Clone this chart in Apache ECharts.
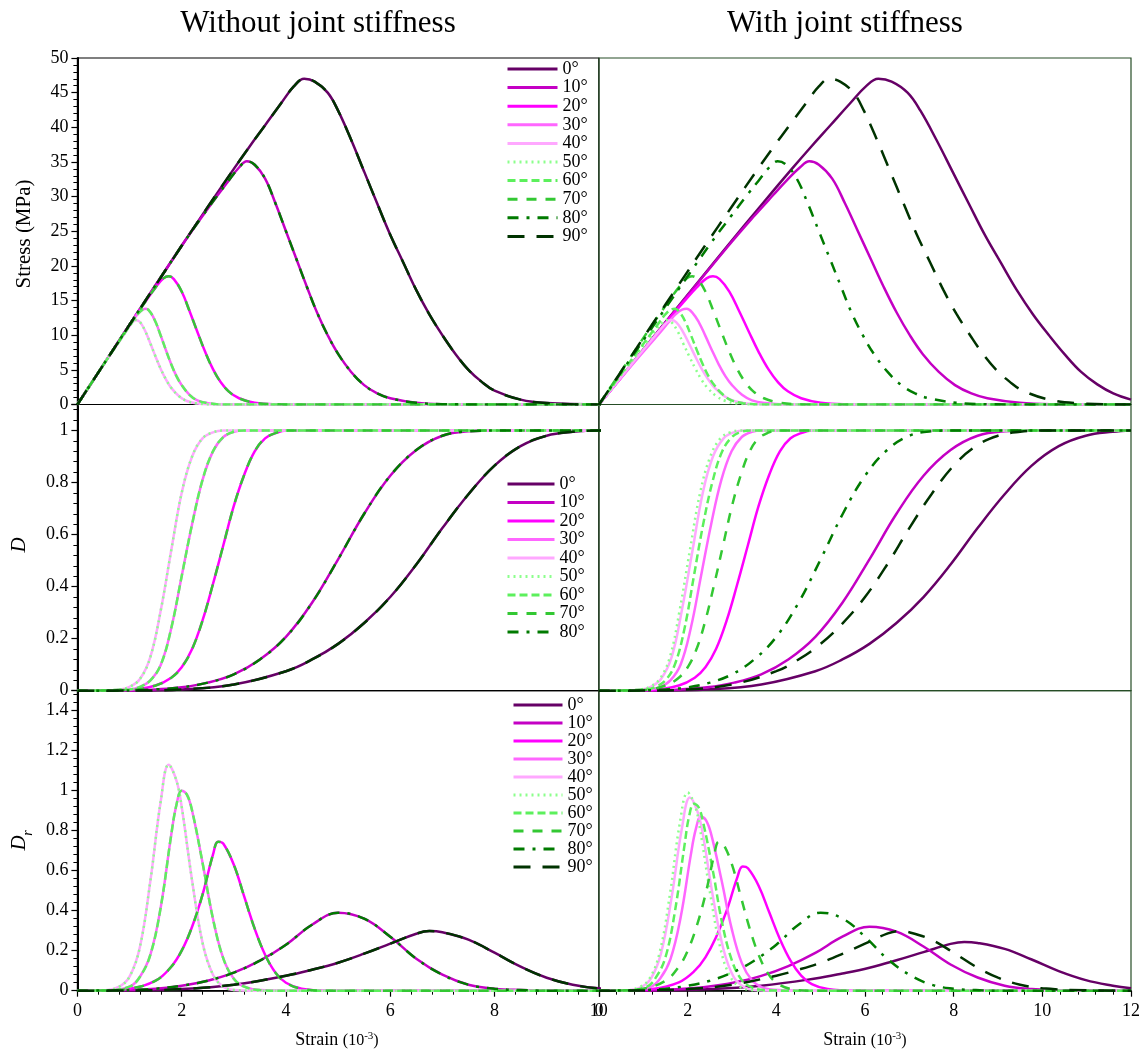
<!DOCTYPE html>
<html>
<head>
<meta charset="utf-8">
<script src="https://cdn.jsdelivr.net/npm/echarts@6/dist/echarts.min.js"></script>
<style>
html,body{margin:0;padding:0;background:#fff;}
#chart{width:1145px;height:1053px;}
</style>
</head>
<body>
<div id="chart"></div>
<script>
// Orientation angles of the joint set
const angles = ['0°','10°','20°','30°','40°','50°','60°','70°','80°','90°'];

// ---- Without joint stiffness: stress-strain [strain (10^-3), stress (MPa)] ----
const sL_0_90 = [[0,0],[0.5,5.75],[1,11.5],[1.5,17.2],[2,22.9],[2.5,28.5],[3,34],[3.3,37.2],[3.6,40.3],[3.9,43.4],[4.15,45.9],[4.35,47],[4.55,46.6],[4.8,45],[5,42.4],[5.25,38.2],[5.5,33.6],[5.75,29],[6,24.5],[6.25,20.5],[6.5,16.5],[6.75,13],[7,10],[7.25,7.3],[7.5,5],[7.75,3.3],[8,2],[8.5,0.7],[9,0.2],[10,0],[12,0]];
const sL_10_80 = [[0,0],[1,11.5],[2,22.9],[2.4,27.2],[2.7,30.3],[2.9,32.3],[3.1,34.2],[3.25,35.1],[3.4,34.6],[3.6,32.6],[3.8,29],[4,25],[4.2,21],[4.4,17],[4.6,13.2],[4.8,10],[5,7.3],[5.25,4.7],[5.5,2.8],[5.75,1.6],[6,0.9],[6.5,0.25],[7,0.05],[8,0],[12,0]];
const sL_20_70 = [[0,0],[0.5,5.75],[1,11.5],[1.3,14.8],[1.5,16.9],[1.65,18.2],[1.75,18.5],[1.85,18.1],[2,16.3],[2.15,13.5],[2.3,10.5],[2.45,7.6],[2.6,5.1],[2.75,3.2],[2.9,1.9],[3.1,0.9],[3.4,0.25],[3.8,0.03],[4.2,0],[12,0]];
const sL_30_60 = [[0,0],[0.5,5.75],[0.9,10.2],[1.05,11.9],[1.15,13],[1.25,13.7],[1.32,13.8],[1.4,13.3],[1.5,11.9],[1.6,9.9],[1.7,7.8],[1.8,5.8],[1.9,4.1],[2,2.8],[2.15,1.4],[2.3,0.6],[2.5,0.2],[2.8,0],[12,0]];
const sL_40_50 = [[0,0],[0.5,5.75],[0.8,9.1],[0.95,10.8],[1.05,11.8],[1.12,12.2],[1.2,11.9],[1.3,10.6],[1.4,8.8],[1.5,6.9],[1.6,5.1],[1.7,3.6],[1.8,2.4],[1.95,1.2],[2.1,0.5],[2.3,0.15],[2.6,0],[12,0]];

// ---- Without joint stiffness: damage D ----
const dL_0_90 = [[0,0],[1,0.0005],[2,0.005],[3,0.024],[4,0.075],[4.5,0.12],[5,0.18],[5.5,0.26],[6,0.36],[6.5,0.485],[7,0.625],[7.5,0.755],[8,0.865],[8.5,0.94],[9,0.98],[9.5,0.995],[10,1],[12,1]];
const dL_10_80 = [[0,0],[1,0.001],[1.5,0.005],[2,0.013],[2.5,0.031],[3,0.063],[3.5,0.12],[4,0.207],[4.5,0.338],[5,0.505],[5.5,0.68],[6,0.826],[6.5,0.925],[7,0.98],[7.5,0.997],[8,1],[12,1]];
const dL_20_70 = [[0,0],[1,0.003],[1.5,0.02],[1.8,0.05],[2,0.09],[2.2,0.16],[2.4,0.27],[2.6,0.41],[2.8,0.56],[3,0.71],[3.2,0.83],[3.4,0.92],[3.6,0.97],[3.8,0.99],[4,1],[12,1]];
const dL_30_60 = [[0,0],[1,0.005],[1.2,0.015],[1.4,0.04],[1.6,0.1],[1.8,0.24],[2,0.44],[2.2,0.64],[2.4,0.81],[2.6,0.92],[2.8,0.975],[3,0.995],[3.2,1],[12,1]];
const dL_40_50 = [[0,0],[0.6,0.001],[0.8,0.004],[1,0.015],[1.2,0.045],[1.4,0.13],[1.6,0.31],[1.8,0.54],[2,0.76],[2.2,0.9],[2.4,0.97],[2.6,0.993],[2.8,1],[12,1]];

// ---- Without joint stiffness: damage rate Dr ----
const rL_0_90 = [[0,0],[1,0.001],[2,0.008],[3,0.03],[4,0.075],[4.5,0.105],[5,0.14],[5.5,0.185],[6,0.235],[6.5,0.285],[6.75,0.298],[7,0.292],[7.5,0.255],[8,0.19],[8.5,0.12],[9,0.065],[9.5,0.03],[10,0.012],[11,0.002],[12,0]];
const rL_10_80 = [[0,0],[1,0.003],[1.5,0.01],[2,0.025],[2.5,0.05],[3,0.09],[3.5,0.15],[4,0.23],[4.5,0.33],[5,0.39],[5.5,0.36],[6,0.27],[6.5,0.16],[7,0.08],[7.5,0.03],[8,0.01],[8.5,0.003],[9,0],[12,0]];
const rL_20_70 = [[0,0],[0.5,0.001],[1,0.01],[1.5,0.05],[1.8,0.12],[2,0.2],[2.2,0.32],[2.4,0.48],[2.6,0.68],[2.7,0.745],[2.8,0.735],[3,0.63],[3.2,0.47],[3.4,0.31],[3.6,0.18],[3.8,0.09],[4,0.04],[4.3,0.01],[4.8,0],[12,0]];
const rL_30_60 = [[0,0],[0.5,0.001],[1,0.02],[1.2,0.07],[1.4,0.18],[1.6,0.42],[1.8,0.78],[1.9,0.93],[2,1],[2.1,0.98],[2.2,0.9],[2.4,0.64],[2.6,0.36],[2.8,0.16],[3,0.06],[3.2,0.02],[3.5,0.003],[4,0],[12,0]];
const rL_40_50 = [[0,0],[0.5,0.001],[0.8,0.02],[1,0.07],[1.2,0.22],[1.4,0.55],[1.6,0.95],[1.75,1.13],[1.9,1.05],[2,0.92],[2.2,0.55],[2.4,0.24],[2.6,0.08],[2.8,0.02],[3,0.004],[3.4,0],[12,0]];

// ---- With joint stiffness: stress-strain ----
const sR_0 = [[0,0],[0.725,5.75],[1.45,11.5],[2.175,17.2],[2.9,22.9],[3.625,28.5],[4.35,34],[4.785,37.2],[5.22,40.3],[5.655,43.4],[6.02,45.9],[6.3,47],[6.6,46.6],[6.96,45],[7.25,42.4],[7.61,38.2],[7.975,33.6],[8.34,29],[8.7,24.5],[9.06,20.5],[9.425,16.5],[9.79,13],[10.15,10],[10.51,7.2],[10.875,4.7],[11.24,2.9],[11.6,1.6],[12,0.7]];
const sR_10 = [[0,0],[1.46,11.5],[2.92,22.9],[3.5,27.2],[3.94,30.3],[4.23,32.3],[4.53,34.2],[4.745,35.1],[4.96,34.6],[5.26,32.6],[5.55,29],[5.84,25],[6.13,21],[6.42,17],[6.72,13.2],[7.01,10],[7.3,7.3],[7.665,4.7],[8.03,2.8],[8.4,1.6],[8.76,0.9],[9.49,0.25],[10.22,0.05],[11.68,0],[12,0]];
const sR_20 = [[0,0],[0.735,5.75],[1.47,11.5],[1.91,14.8],[2.205,16.9],[2.425,18.2],[2.57,18.5],[2.72,18.1],[2.94,16.3],[3.16,13.5],[3.38,10.5],[3.6,7.6],[3.82,5.1],[4.04,3.2],[4.26,1.9],[4.56,0.9],[5,0.25],[5.59,0.03],[6.17,0],[12,0]];
const sR_30 = [[0,0],[0.75,5.75],[1.35,10.2],[1.575,11.9],[1.725,13],[1.875,13.7],[1.98,13.8],[2.1,13.3],[2.25,11.9],[2.4,9.9],[2.55,7.8],[2.7,5.8],[2.85,4.1],[3,2.8],[3.225,1.4],[3.45,0.6],[3.75,0.2],[4.2,0],[12,0]];
const sR_40 = [[0,0],[0.725,5.75],[1.16,9.1],[1.38,10.8],[1.52,11.8],[1.625,12.2],[1.74,11.9],[1.885,10.6],[2.03,8.8],[2.175,6.9],[2.32,5.1],[2.465,3.6],[2.61,2.4],[2.83,1.2],[3.045,0.5],[3.335,0.15],[3.77,0],[12,0]];
const sR_50 = [[0,0],[0.68,5.75],[1.09,9.1],[1.29,10.8],[1.43,11.8],[1.52,12.2],[1.63,11.9],[1.77,10.6],[1.9,8.8],[2.04,6.9],[2.18,5.1],[2.31,3.6],[2.45,2.4],[2.65,1.2],[2.86,0.5],[3.13,0.15],[3.54,0],[12,0]];
const sR_60 = [[0,0],[0.65,5.75],[1.17,10.2],[1.365,11.9],[1.495,13],[1.625,13.7],[1.716,13.8],[1.82,13.3],[1.95,11.9],[2.08,9.9],[2.21,7.8],[2.34,5.8],[2.47,4.1],[2.6,2.8],[2.8,1.4],[2.99,0.6],[3.25,0.2],[3.64,0],[12,0]];
const sR_70 = [[0,0],[0.6,5.75],[1.2,11.5],[1.56,14.8],[1.8,16.9],[1.98,18.2],[2.1,18.5],[2.22,18.1],[2.4,16.3],[2.58,13.5],[2.76,10.5],[2.94,7.6],[3.12,5.1],[3.3,3.2],[3.48,1.9],[3.72,0.9],[4.08,0.25],[4.56,0.03],[5.04,0],[12,0]];
const sR_80 = [[0,0],[1.24,11.5],[2.48,22.9],[2.98,27.2],[3.35,30.3],[3.6,32.3],[3.84,34.2],[4.03,35.1],[4.22,34.6],[4.46,32.6],[4.71,29],[4.96,25],[5.21,21],[5.46,17],[5.7,13.2],[5.95,10],[6.2,7.3],[6.51,4.7],[6.82,2.8],[7.13,1.6],[7.44,0.9],[8.06,0.25],[8.68,0.05],[9.92,0],[12,0]];
const sR_90 = [[0,0],[0.6,5.75],[1.195,11.5],[1.79,17.2],[2.39,22.9],[2.99,28.5],[3.585,34],[3.94,37.2],[4.3,40.3],[4.66,43.4],[4.96,45.9],[5.2,47],[5.44,46.6],[5.74,45],[5.975,42.4],[6.27,38.2],[6.57,33.6],[6.87,29],[7.17,24.5],[7.47,20.5],[7.77,16.5],[8.07,13],[8.37,10],[8.66,7.3],[8.96,5],[9.26,3.3],[9.56,2],[10.16,0.7],[10.76,0.2],[11.95,0],[12,0]];

// ---- With joint stiffness: damage D ----
const dR_0 = [[0,0],[1.22,0.0005],[2.44,0.005],[3.66,0.024],[4.88,0.075],[5.49,0.12],[6.1,0.18],[6.71,0.26],[7.32,0.36],[7.93,0.485],[8.54,0.625],[9.15,0.755],[9.76,0.865],[10.37,0.94],[10.98,0.98],[11.59,0.995],[12,1]];
const dR_10 = [[0,0],[1.22,0.001],[1.83,0.005],[2.44,0.013],[3.05,0.031],[3.66,0.063],[4.27,0.12],[4.88,0.207],[5.49,0.338],[6.1,0.505],[6.71,0.68],[7.32,0.826],[7.93,0.925],[8.54,0.98],[9.15,0.997],[9.76,1],[12,1]];
const dR_20 = [[0,0],[1.2,0.003],[1.8,0.02],[2.16,0.05],[2.4,0.09],[2.64,0.16],[2.88,0.27],[3.12,0.41],[3.36,0.56],[3.6,0.71],[3.84,0.83],[4.08,0.92],[4.32,0.97],[4.56,0.99],[4.8,1],[12,1]];
const dR_30 = [[0,0],[1.15,0.005],[1.38,0.015],[1.61,0.04],[1.84,0.1],[2.07,0.24],[2.3,0.44],[2.53,0.64],[2.76,0.81],[2.99,0.92],[3.22,0.975],[3.45,0.995],[3.68,1],[12,1]];
const dR_40 = [[0,0],[0.7,0.001],[0.94,0.004],[1.17,0.015],[1.4,0.045],[1.64,0.13],[1.87,0.31],[2.11,0.54],[2.34,0.76],[2.57,0.9],[2.81,0.97],[3.04,0.993],[3.28,1],[12,1]];
const dR_50 = [[0,0],[0.68,0.001],[0.91,0.004],[1.14,0.015],[1.37,0.045],[1.6,0.13],[1.82,0.31],[2.05,0.54],[2.28,0.76],[2.51,0.9],[2.74,0.97],[2.96,0.993],[3.19,1],[12,1]];
const dR_60 = [[0,0],[1.07,0.005],[1.28,0.015],[1.5,0.04],[1.71,0.1],[1.93,0.24],[2.14,0.44],[2.35,0.64],[2.57,0.81],[2.78,0.92],[3,0.975],[3.21,0.995],[3.42,1],[12,1]];

// ---- With joint stiffness: damage rate Dr ----
const rR_0 = [[0,0],[1.22,0.001],[2.44,0.007],[3.66,0.025],[4.88,0.061],[5.49,0.086],[6.1,0.115],[6.71,0.152],[7.32,0.193],[7.93,0.234],[8.24,0.244],[8.54,0.239],[9.15,0.209],[9.76,0.156],[10.37,0.098],[10.98,0.053],[11.59,0.025],[12,0.012]];
const rR_10 = [[0,0],[1.22,0.0025],[1.83,0.008],[2.44,0.02],[3.05,0.041],[3.66,0.074],[4.27,0.123],[4.88,0.189],[5.49,0.27],[6.1,0.32],[6.71,0.295],[7.32,0.221],[7.93,0.131],[8.54,0.066],[9.15,0.025],[9.76,0.008],[10.37,0.0025],[11,0],[12,0]];
const rR_20 = [[0,0],[0.6,0.001],[1.2,0.008],[1.8,0.042],[2.16,0.1],[2.4,0.167],[2.64,0.267],[2.88,0.4],[3.12,0.567],[3.24,0.621],[3.36,0.612],[3.6,0.525],[3.84,0.392],[4.08,0.258],[4.32,0.15],[4.56,0.075],[4.8,0.033],[5.16,0.008],[5.76,0],[12,0]];
const rR_30 = [[0,0],[0.575,0.001],[1.15,0.017],[1.38,0.061],[1.61,0.157],[1.84,0.365],[2.07,0.678],[2.185,0.809],[2.3,0.87],[2.415,0.852],[2.53,0.783],[2.76,0.557],[2.99,0.313],[3.22,0.139],[3.45,0.052],[3.68,0.017],[4.03,0.003],[4.6,0],[12,0]];
const rR_40 = [[0,0],[0.585,0.001],[0.94,0.017],[1.17,0.06],[1.4,0.188],[1.64,0.47],[1.87,0.812],[2.05,0.966],[2.22,0.897],[2.34,0.786],[2.57,0.47],[2.81,0.205],[3.04,0.068],[3.28,0.017],[3.51,0.003],[3.98,0],[12,0]];
const rR_50 = [[0,0],[0.57,0.001],[0.91,0.018],[1.14,0.061],[1.37,0.193],[1.6,0.482],[1.82,0.833],[2,0.991],[2.17,0.921],[2.28,0.807],[2.51,0.482],[2.74,0.211],[2.96,0.07],[3.19,0.018],[3.42,0.004],[3.88,0],[12,0]];
const rR_60 = [[0,0],[0.535,0.001],[1.07,0.019],[1.28,0.065],[1.5,0.168],[1.71,0.393],[1.93,0.729],[2.03,0.869],[2.14,0.935],[2.25,0.916],[2.35,0.841],[2.57,0.598],[2.78,0.336],[3,0.15],[3.21,0.056],[3.42,0.019],[3.75,0.003],[4.28,0],[12,0]];

// Axis ranges and tick steps
const strainMaxL = 10, strainMaxR = 12, strainStep = 2;
const stressMax = 50, stressStep = 5;
const damageMax = 1.1, damageStep = 0.2;
const rateMax = 1.5, rateStep = 0.2;

// Panel order: top-left, top-right, mid-left, mid-right, bottom-left, bottom-right
const panelData = [
  [sL_0_90, sL_10_80, sL_20_70, sL_30_60, sL_40_50, sL_40_50, sL_30_60, sL_20_70, sL_10_80, sL_0_90],
  [sR_0, sR_10, sR_20, sR_30, sR_40, sR_50, sR_60, sR_70, sR_80, sR_90],
  [dL_0_90, dL_10_80, dL_20_70, dL_30_60, dL_40_50, dL_40_50, dL_30_60, dL_20_70, dL_10_80, dL_0_90],
  [dR_0, dR_10, dR_20, dR_30, dR_40, dR_50, dR_60, dL_20_70, dL_10_80, dL_0_90],
  [rL_0_90, rL_10_80, rL_20_70, rL_30_60, rL_40_50, rL_40_50, rL_30_60, rL_20_70, rL_10_80, rL_0_90],
  [rR_0, rR_10, rR_20, rR_30, rR_40, rR_50, rR_60, rL_20_70, rL_10_80, rL_0_90]
];

const FONT = '"Liberation Serif", "Times New Roman", serif';
const lineStyles = [
  { color: '#660066', type: 'solid' },
  { color: '#c400c4', type: 'solid' },
  { color: '#ff00ff', type: 'solid' },
  { color: '#ff66ff', type: 'solid' },
  { color: '#ffa8ff', type: 'solid' },
  { color: '#8cff8c', type: [2, 4] },
  { color: '#5cf05c', type: [8, 4] },
  { color: '#33c833', type: [10, 9] },
  { color: '#007a00', type: [11, 8, 3, 8] },
  { color: '#003300', type: [17, 12] }
];

const cols = [{ left: 77.4, width: 521.4, max: strainMaxL, border: '#000' },
              { left: 599, width: 532, max: strainMaxR, border: '#264d26' }];
const rows = [{ top: 58, height: 346.5, max: stressMax, step: stressStep },
              { top: 404.5, height: 286.2, max: damageMax, step: damageStep },
              { top: 690.7, height: 300, max: rateMax, step: rateStep }];

const grids = [], xAxes = [], yAxes = [], series = [];
rows.forEach((r, ri) => {
  cols.forEach((c, ci) => {
    const idx = ri * 2 + ci;
    const isBottom = ri === 2, isLeft = ci === 0;
    grids.push({ left: c.left, top: r.top, width: c.width, height: r.height,
                 show: true, borderColor: c.border, borderWidth: 1.2, containLabel: false });
    xAxes.push({
      type: 'value', gridIndex: idx, min: 0, max: c.max, interval: strainStep,
      axisLine: { show: isBottom, onZero: false, lineStyle: { color: '#000', width: 1.5 } },
      axisTick: { show: isBottom, inside: false, length: 6, lineStyle: { color: '#000', width: 1.2 } },
      minorTick: { show: isBottom, splitNumber: 5, length: 4, lineStyle: { color: '#000', width: 1 } },
      axisLabel: { show: isBottom, margin: 12, fontFamily: FONT, fontSize: 18, color: '#000' },
      splitLine: { show: false }
    });
    yAxes.push({
      type: 'value', gridIndex: idx, min: 0, max: r.max, interval: r.step,
      axisLine: { show: isLeft, onZero: false, lineStyle: { color: '#000', width: 2 } },
      axisTick: { show: isLeft, inside: false, length: 6, lineStyle: { color: '#000', width: 1.2 } },
      minorTick: { show: isLeft, splitNumber: 5, length: 4, lineStyle: { color: '#000', width: 1 } },
      axisLabel: { show: isLeft, margin: 9, fontFamily: FONT, fontSize: 18, color: '#000',
                   showMaxLabel: ri === 0 },
      splitLine: { show: false }
    });
    panelData[idx].forEach((d, k) => {
      series.push({
        type: 'line', name: angles[k], xAxisIndex: idx, yAxisIndex: idx,
        data: d, symbol: 'none', smooth: 0.4, clip: true,
        z: 2 + k, animation: false,
        lineStyle: { color: lineStyles[k].color, width: 2.5, type: lineStyles[k].type, cap: 'butt' },
        itemStyle: { color: lineStyles[k].color }
      });
    });
  });
});

const legendBase = {
  orient: 'vertical', selectedMode: false, itemHeight: 12, padding: 0,
  itemStyle: { opacity: 0 },
  lineStyle: { width: 3 },
  textStyle: { fontFamily: FONT, fontSize: 18, color: '#000' }
};
const legends = [
  Object.assign({}, legendBase, { data: angles, left: 506, top: 60, itemWidth: 50, itemGap: 0.6 }),
  Object.assign({}, legendBase, { data: angles.slice(0, 9), left: 506, top: 475, itemWidth: 47, itemGap: 0.5 }),
  Object.assign({}, legendBase, { data: angles, left: 512, top: 696, itemWidth: 49, itemGap: 0 })
];

const rot = Math.PI / 2;
const graphics = [
  { type: 'text', x: 318, y: 24, style: { text: 'Without joint stiffness', font: '31px ' + FONT, fill: '#000', textAlign: 'center', textVerticalAlign: 'middle' } },
  { type: 'text', x: 845, y: 24, style: { text: 'With joint stiffness', font: '31px ' + FONT, fill: '#000', textAlign: 'center', textVerticalAlign: 'middle' } },
  { type: 'text', x: 24, y: 234, rotation: rot, style: { text: 'Stress (MPa)', font: '21px ' + FONT, fill: '#000', textAlign: 'center', textVerticalAlign: 'middle' } },
  { type: 'text', x: 19, y: 545, rotation: rot, style: { text: 'D', font: 'italic 21px ' + FONT, fill: '#000', textAlign: 'center', textVerticalAlign: 'middle' } },
  { type: 'text', x: 19, y: 843, rotation: rot, style: { text: 'D', font: 'italic 21px ' + FONT, fill: '#000', textAlign: 'center', textVerticalAlign: 'middle' } },
  { type: 'text', x: 28, y: 833, rotation: rot, style: { text: 'r', font: 'italic 14px ' + FONT, fill: '#000', textAlign: 'center', textVerticalAlign: 'middle' } }
];
[337, 865].forEach(cx => {
  graphics.push({ type: 'text', x: cx, y: 1040, style: {
    text: '{a|Strain }{b|(10}{c|-3}{b|)}', textAlign: 'center', textVerticalAlign: 'middle',
    rich: {
      a: { fontFamily: FONT, fontSize: 18, fill: '#000', verticalAlign: 'bottom' },
      b: { fontFamily: FONT, fontSize: 16, fill: '#000', verticalAlign: 'bottom' },
      c: { fontFamily: FONT, fontSize: 11, fill: '#000', verticalAlign: 'top' }
    } } });
});

const chart = echarts.init(document.getElementById('chart'), null, { renderer: 'canvas' });
chart.setOption({
  backgroundColor: '#fff',
  animation: false,
  grid: grids, xAxis: xAxes, yAxis: yAxes,
  legend: legends,
  series: series,
  graphic: graphics
});
</script>
</body>
</html>
